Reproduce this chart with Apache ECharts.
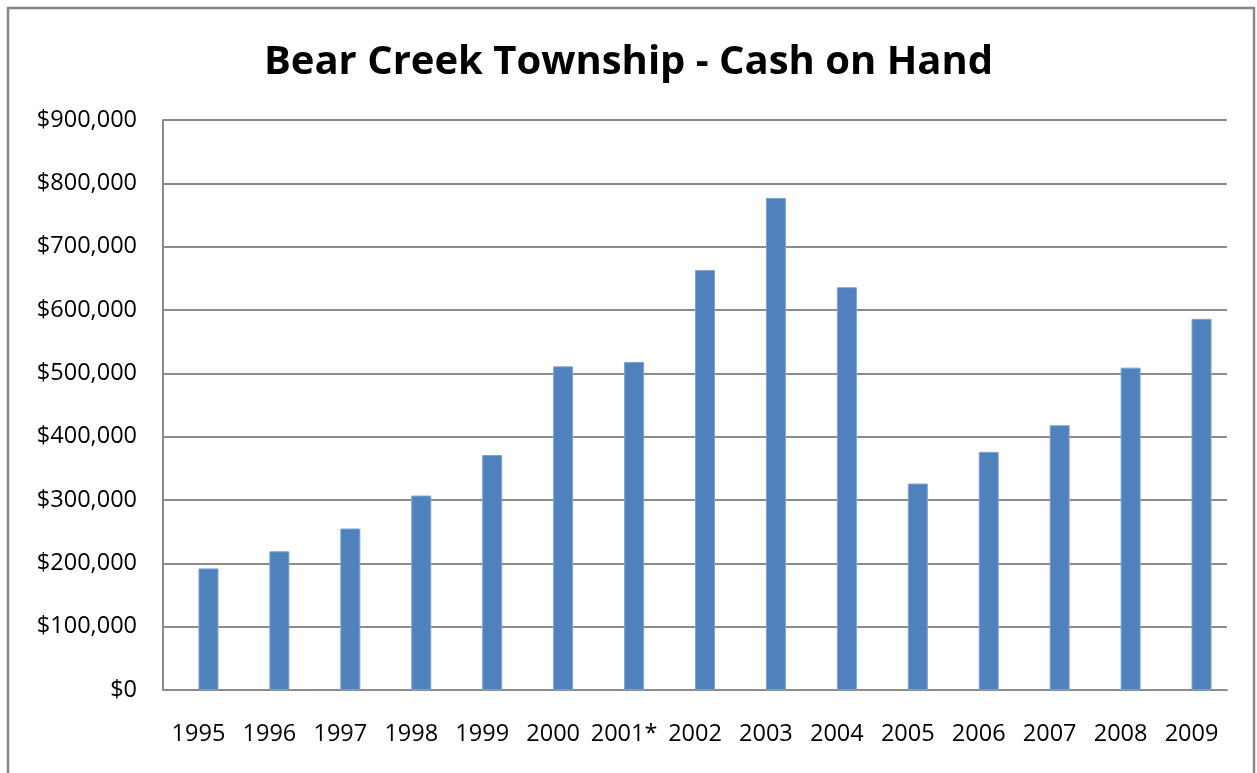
<!DOCTYPE html>
<html>
<head>
<meta charset="utf-8">
<script src="https://cdn.jsdelivr.net/npm/echarts@6/dist/echarts.min.js"></script>
<style>
html,body{margin:0;padding:0;background:#fff;overflow:hidden;}
#chart{width:1257px;height:773px;}
</style>
</head>
<body>
<div id="chart"></div>
<script>
const titleText = 'Bear Creek Township - Cash on Hand';
const years = ['1995','1996','1997','1998','1999','2000','2001*','2002','2003','2004','2005','2006','2007','2008','2009'];
const cashOnHand = [192000,219000,255000,307000,371000,511000,518000,663000,777000,636000,326000,376000,418000,509000,586000];
const yMin = 0, yMax = 900000, yStep = 100000;

const FONT = '"Open Sans", "Noto Sans", sans-serif';
const chart = echarts.init(document.getElementById('chart'), null, {renderer:'canvas'});
chart.setOption({
  animation: false,
  backgroundColor: '#ffffff',
  title: {
    text: titleText,
    left: 'center',
    top: 36,
    textStyle: {fontFamily: FONT, fontWeight: 'bold', fontSize: 40, color: '#000', lineHeight: 44}
  },
  graphic: [{
    type: 'rect',
    shape: {x: 8, y: 8, width: 1246, height: 820},
    style: {fill: 'none', stroke: '#878787', lineWidth: 2.5},
    silent: true
  }],
  grid: {left: 163, right: 30, top: 120, bottom: 83, containLabel: false},
  xAxis: {
    type: 'category',
    data: years,
    axisLine: {show: true, lineStyle: {color: '#8c8c8c', width: 2}},
    axisTick: {show: false},
    axisLabel: {fontFamily: FONT, fontSize: 23.5, color: '#000', margin: 32, interval: 0}
  },
  yAxis: {
    type: 'value',
    min: yMin, max: yMax, interval: yStep,
    axisLine: {show: true, lineStyle: {color: '#8c8c8c', width: 2}},
    axisTick: {show: false},
    splitLine: {show: true, lineStyle: {color: '#8c8c8c', width: 2}},
    axisLabel: {
      fontFamily: FONT, fontSize: 23.5, color: '#000', margin: 26,
      formatter: v => '$' + v.toLocaleString('en-US')
    }
  },
  series: [
    {type: 'bar', name: 'placeholder', data: [], barWidth: 20, barGap: '0%'},
    {
      type: 'bar', name: 'Cash on Hand', data: cashOnHand, barWidth: 20, barGap: '0%',
      itemStyle: {color: '#4f81bd', borderColor: '#7ea3cf', borderWidth: 1}
    }
  ]
});
</script>
</body>
</html>
